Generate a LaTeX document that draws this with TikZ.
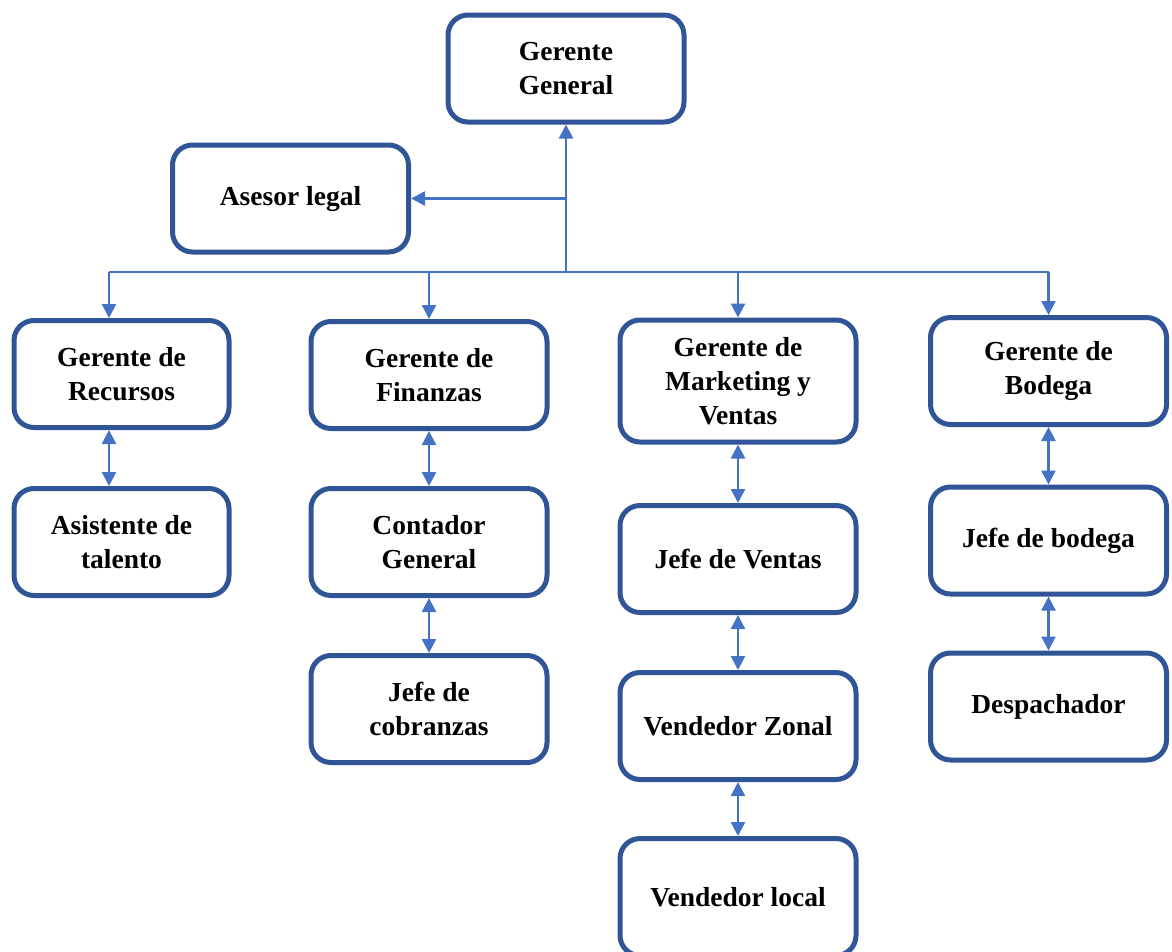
\documentclass[tikz,border=0pt]{standalone}
\usepackage{fontspec}
\setmainfont{Liberation Serif}
\usetikzlibrary{arrows.meta}
\definecolor{borde}{HTML}{2F5597}
\definecolor{linea}{HTML}{4472C4}
\begin{document}
\begin{tikzpicture}[x=1pt, y=-1pt,
    cargo/.style={draw=borde, line width=5pt, rounded corners=20pt, fill=white,
      align=center, inner sep=0pt, minimum width=236pt, minimum height=107pt,
      font=\fontsize{27.5}{34}\selectfont\bfseries},
    angosto/.style={cargo, minimum width=215pt},
    flecha/.style={draw=linea, line width=2.4pt, -{Triangle[length=14pt,width=14pt]}},
    doble/.style={flecha, {Triangle[length=14pt,width=14pt]}-{Triangle[length=14pt,width=14pt]}},
    tramo/.style={draw=linea, line width=2.4pt}]
    \useasboundingbox (0,0) rectangle (1172,951);

    % Gerencia
    \node[cargo] (gg) at (566,68.5) {Gerente\\General};
    \node[cargo] (asesor) at (290.5,198.5) {Asesor legal};

    % Segundo nivel
    \node[angosto] (recursos) at (121.5,374) {Gerente de\\Recursos};
    \node[cargo] (finanzas) at (429,375) {Gerente de\\Finanzas};
    \node[cargo, minimum height=122pt] (marketing) at (738,381) {Gerente de\\Marketing y\\Ventas};
    \node[cargo] (bodega) at (1048.5,371) {Gerente de\\Bodega};

    % Tercer nivel
    \node[angosto] (asistente) at (121.5,542) {Asistente de\\talento};
    \node[cargo] (contador) at (429,542) {Contador\\General};
    \node[cargo] (jventas) at (738,559) {Jefe de Ventas};
    \node[cargo] (jbodega) at (1048.5,540.5) {Jefe de bodega};

    % Cuarto y quinto nivel
    \node[cargo] (cobranzas) at (429,709) {Jefe de\\cobranzas};
    \node[cargo] (zonal) at (738,726) {Vendedor Zonal};
    \node[cargo] (despachador) at (1048.5,706.5) {Despachador};
    \node[cargo, minimum height=117pt] (local) at (738,897) {Vendedor local};

    % Tronco y ramas
    \coordinate (tronco) at (566,272);
    \coordinate (rizq) at (109,272);
    \draw[flecha] (tronco) -- (gg.south);
    \draw[flecha] (tronco |- asesor.east) -- (asesor.east);
    \draw[tramo] (rizq) -- (tronco -| bodega.north);
    \draw[flecha] (rizq) -- (rizq |- recursos.north);
    \draw[flecha] (tronco -| finanzas.north) -- (finanzas.north);
    \draw[flecha] (tronco -| marketing.north) -- (marketing.north);
    \draw[flecha] (tronco -| bodega.north) -- (bodega.north);

    % Enlaces dobles
    \draw[doble] (rizq |- recursos.south) -- (rizq |- asistente.north);
    \draw[doble] (finanzas.south) -- (contador.north);
    \draw[doble] (contador.south) -- (cobranzas.north);
    \draw[doble] (marketing.south) -- (jventas.north);
    \draw[doble] (jventas.south) -- (zonal.north);
    \draw[doble] (zonal.south) -- (local.north);
    \draw[doble] (bodega.south) -- (jbodega.north);
    \draw[doble] (jbodega.south) -- (despachador.north);
\end{tikzpicture}
\end{document}
